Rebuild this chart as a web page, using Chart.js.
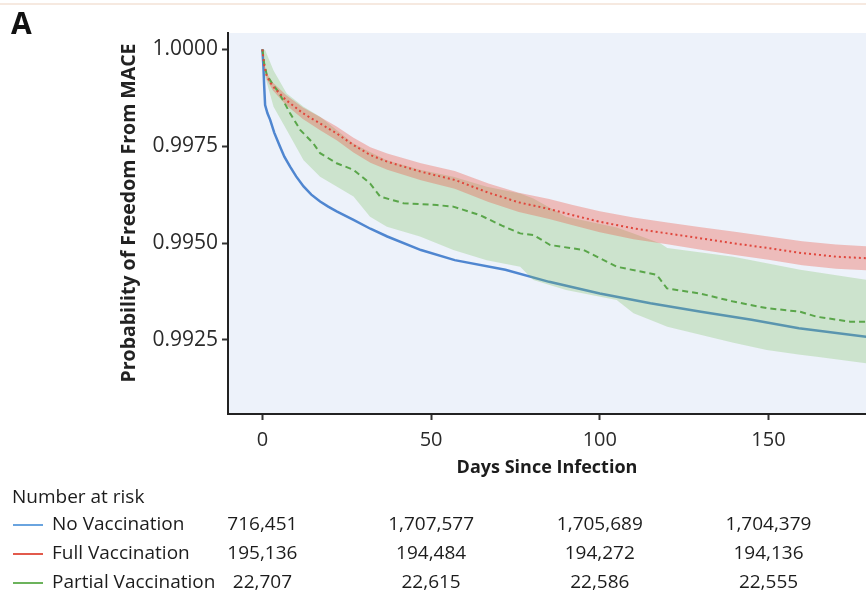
<!DOCTYPE html>
<html>
<head>
<meta charset="utf-8">
<script src="https://cdn.jsdelivr.net/npm/chart.js@4.4.1/dist/chart.umd.min.js"></script>
<style>
  body { margin: 0; background: #fff; }
  canvas { display: block; }
</style>
</head>
<body>
<canvas id="kmChart" width="866" height="595"></canvas>
<script>
// Kaplan-Meier: probability of freedom from MACE by vaccination status

// No vaccination (blue, solid)
const noVacDays = [0, 0.3, 0.5, 0.8, 1.5, 2.3, 3.5, 5.2, 6.5, 8.2, 10, 12.2, 14.5, 17.1, 19.5, 22, 27, 32, 37, 47, 57, 72, 85, 100, 115, 130, 145, 159, 179];
const noVacSurv = [1.0000, 0.99955, 0.9991, 0.99856, 0.99835, 0.99818, 0.99785, 0.99749, 0.99723, 0.99697, 0.99672, 0.99646, 0.99625, 0.99607, 0.99594, 0.99582, 0.99560, 0.99537, 0.99517, 0.99482, 0.99456, 0.99431, 0.99400, 0.99370, 0.99345, 0.99323, 0.99302, 0.99280, 0.99258];

// Full vaccination (red, dotted) with 95% CI
const fullVacDays = [0, 0.5, 1.3, 3, 7, 12, 17, 22, 27, 32, 37, 47, 57, 67, 76, 85, 92, 100, 110, 120, 130, 140, 150, 160, 170, 179];
const fullVacSurv = [1.0000, 0.9996, 0.9993, 0.99905, 0.99869, 0.99835, 0.99809, 0.99783, 0.99753, 0.99727, 0.99710, 0.99684, 0.99663, 0.99630, 0.99605, 0.99588, 0.99572, 0.99555, 0.99538, 0.99525, 0.99512, 0.99499, 0.99487, 0.99474, 0.99465, 0.99461];
const fullVacUpper = [1.0000, 0.99965, 0.99938, 0.99915, 0.99882, 0.99850, 0.99826, 0.99801, 0.99772, 0.99747, 0.99731, 0.99706, 0.99686, 0.99654, 0.99630, 0.99614, 0.99598, 0.99582, 0.99566, 0.99553, 0.99541, 0.99529, 0.99517, 0.99505, 0.99496, 0.99492];
const fullVacLower = [1.0000, 0.99955, 0.99922, 0.99895, 0.99856, 0.99820, 0.99792, 0.99765, 0.99734, 0.99707, 0.99689, 0.99662, 0.99640, 0.99606, 0.99580, 0.99562, 0.99546, 0.99528, 0.99510, 0.99497, 0.99483, 0.99469, 0.99457, 0.99443, 0.99434, 0.99430];

// Partial vaccination (green, dashed) with 95% CI
const partVacDays = [0, 0.5, 1.3, 3, 4.7, 6.5, 8.2, 11.2, 15.1, 17.1, 22, 27, 31.9, 34.9, 41.8, 51.7, 56.6, 64.5, 71, 76.4, 80.3, 85.3, 95.2, 105, 116.9, 119.9, 129.7, 139.6, 149.5, 159.4, 164.3, 174.2, 179];
const partVacSurv = [1.0000, 0.99965, 0.99934, 0.99910, 0.99891, 0.99862, 0.99835, 0.99792, 0.99757, 0.99732, 0.99706, 0.99689, 0.99654, 0.99620, 0.99603, 0.99598, 0.99594, 0.99572, 0.99545, 0.99525, 0.99521, 0.99495, 0.99482, 0.99439, 0.99418, 0.99383, 0.99370, 0.99349, 0.99332, 0.99323, 0.99310, 0.99297, 0.99297];
const partBandDays = [0, 0.8, 3.3, 7.2, 12.2, 17.1, 27, 31.9, 36.9, 46.7, 56.6, 66.5, 76.4, 80.3, 90, 105, 110, 118, 120, 139.6, 149.5, 159.4, 164.3, 179];
const partVacUpper = [1.0000, 0.99998, 0.99945, 0.99886, 0.99852, 0.99826, 0.99757, 0.99735, 0.99714, 0.99689, 0.99671, 0.99645, 0.99628, 0.99615, 0.99568, 0.99540, 0.99525, 0.99499, 0.99487, 0.99465, 0.99448, 0.99431, 0.99425, 0.99405];
const partVacLower = [1.0000, 0.9993, 0.99852, 0.99792, 0.99714, 0.99671, 0.99620, 0.99568, 0.99542, 0.99517, 0.99482, 0.99456, 0.99439, 0.99405, 0.99379, 0.99353, 0.99319, 0.99291, 0.99284, 0.99243, 0.99224, 0.99212, 0.99207, 0.99190];

// axes
const xTicks = [0, 50, 100, 150];
const yTicks = [0.9925, 0.9950, 0.9975, 1.0000];
const yTitle = 'Probability of Freedom From MACE';

// number at risk table
const riskDays = [0, 50, 100, 150];
const groupNames = ['No Vaccination', 'Full Vaccination', 'Partial Vaccination'];
const noVacRisk = [716451, 1707577, 1705689, 1704379];
const fullVacRisk = [195136, 194484, 194272, 194136];
const partVacRisk = [22707, 22615, 22586, 22555];

const groupColors = ['#6aa4df', '#e25a4c', '#6cb35c'];

function toPoints(xs, ys) {
    return xs.map((x, i) => ({ x: x, y: ys[i] }));
}

const FONT = "'Open Sans', 'DejaVu Sans', sans-serif";

// plot background, panel letter, top rule
const backgroundPlugin = {
    id: 'panelBackground',
    beforeDraw(chart) {
        const ctx = chart.ctx;
        const a = chart.chartArea;
        ctx.save();
        ctx.fillStyle = '#fff';
        ctx.fillRect(0, 0, chart.width, chart.height);
        ctx.fillStyle = '#edf2fa';
        ctx.fillRect(a.left, a.top, a.right - a.left, a.bottom - a.top);
        ctx.strokeStyle = '#f3e2d6';
        ctx.lineWidth = 1.5;
        ctx.beginPath();
        ctx.moveTo(0, 4);
        ctx.lineTo(chart.width, 4);
        ctx.stroke();
        ctx.fillStyle = '#111';
        ctx.font = 'bold 30px ' + FONT;
        ctx.textBaseline = 'alphabetic';
        ctx.fillText('A', 11, 34);
        ctx.restore();
    }
};

// y title and number at risk table
const riskTablePlugin = {
    id: 'riskTable',
    afterDraw(chart) {
        const ctx = chart.ctx;
        const xs = chart.scales.x;
        ctx.save();
        ctx.translate(129, 213);
        ctx.rotate(-Math.PI / 2);
        ctx.font = 'bold 19.5px ' + FONT;
        ctx.fillStyle = '#222';
        ctx.textAlign = 'center';
        ctx.textBaseline = 'middle';
        ctx.fillText(yTitle, 0, 0);
        ctx.restore();

        const rows = [noVacRisk, fullVacRisk, partVacRisk];
        const rowY = [525, 554, 583];
        ctx.save();
        ctx.font = '19px ' + FONT;
        ctx.fillStyle = '#1c1c1c';
        ctx.textBaseline = 'middle';
        ctx.textAlign = 'left';
        ctx.fillText('Number at risk', 12, 498);
        rows.forEach((vals, r) => {
            ctx.strokeStyle = groupColors[r];
            ctx.lineWidth = 2;
            ctx.beginPath();
            ctx.moveTo(13, rowY[r]);
            ctx.lineTo(43, rowY[r]);
            ctx.stroke();
            ctx.textAlign = 'left';
            ctx.fillText(groupNames[r], 52, rowY[r]);
            ctx.textAlign = 'center';
            vals.forEach((v, i) => {
                ctx.fillText(v.toLocaleString('en-US'), xs.getPixelForValue(riskDays[i]), rowY[r]);
            });
        });
        ctx.restore();
    }
};

new Chart(document.getElementById('kmChart'), {
    type: 'line',
    data: {
        datasets: [
            {
                label: 'Partial lower',
                data: toPoints(partBandDays, partVacLower),
                borderWidth: 0,
                pointRadius: 0,
                fill: false,
                order: 5
            },
            {
                label: 'Partial upper',
                data: toPoints(partBandDays, partVacUpper),
                borderWidth: 0,
                pointRadius: 0,
                fill: '-1',
                backgroundColor: 'rgba(120, 190, 90, 0.28)',
                order: 5
            },
            {
                label: 'Full lower',
                data: toPoints(fullVacDays, fullVacLower),
                borderWidth: 0,
                pointRadius: 0,
                fill: false,
                order: 4
            },
            {
                label: 'Full upper',
                data: toPoints(fullVacDays, fullVacUpper),
                borderWidth: 0,
                pointRadius: 0,
                fill: '-1',
                backgroundColor: 'rgba(238, 80, 60, 0.33)',
                order: 4
            },
            {
                label: 'No Vaccination',
                data: toPoints(noVacDays, noVacSurv),
                borderColor: '#4f86d0',
                borderWidth: 2.5,
                pointRadius: 0,
                fill: false,
                order: 6
            },
            {
                label: 'Full Vaccination',
                data: toPoints(fullVacDays, fullVacSurv),
                borderColor: '#e0463c',
                borderWidth: 2,
                borderDash: [2, 3],
                pointRadius: 0,
                fill: false,
                order: 1
            },
            {
                label: 'Partial Vaccination',
                data: toPoints(partVacDays, partVacSurv),
                borderColor: '#5aa64a',
                borderWidth: 2,
                borderDash: [6, 4],
                pointRadius: 0,
                fill: false,
                order: 2
            }
        ]
    },
    options: {
        responsive: false,
        animation: false,
        devicePixelRatio: 1,
        layout: {
            padding: { left: 119, top: 33, right: 0, bottom: 111 }
        },
        elements: {
            line: { tension: 0 }
        },
        plugins: {
            legend: { display: false },
            tooltip: { enabled: false }
        },
        scales: {
            x: {
                type: 'linear',
                min: -10.2,
                max: 178.9,
                afterBuildTicks: (scale) => { scale.ticks = xTicks.map(v => ({ value: v })); },
                afterFit: (scale) => { scale.height = 70; },
                border: { display: true, color: '#222', width: 2 },
                grid: { display: true, drawOnChartArea: false, drawTicks: true, tickLength: 6, tickWidth: 2, tickColor: '#333' },
                ticks: {
                    padding: 8,
                    maxRotation: 0,
                    color: '#2a2a2a',
                    font: { family: FONT, size: 20 },
                    callback: (v) => v
                },
                title: {
                    display: true,
                    text: 'Days Since Infection',
                    color: '#1c1c1c',
                    font: { family: FONT, size: 18, weight: 'bold' },
                    padding: { top: 0, bottom: 5 }
                }
            },
            y: {
                type: 'linear',
                min: 0.99059,
                max: 1.00042,
                afterBuildTicks: (scale) => { scale.ticks = yTicks.map(v => ({ value: v })); },
                afterFit: (scale) => { scale.width = 109; },
                border: { display: true, color: '#222', width: 2 },
                grid: { display: true, drawOnChartArea: false, drawTicks: true, tickLength: 6, tickWidth: 2, tickColor: '#333' },
                ticks: {
                    padding: 4,
                    color: '#2a2a2a',
                    font: { family: FONT, size: 21 },
                    callback: (v) => v.toFixed(4)
                },
                title: { display: false }
            }
        }
    },
    plugins: [backgroundPlugin, riskTablePlugin]
});
</script>
</body>
</html>
